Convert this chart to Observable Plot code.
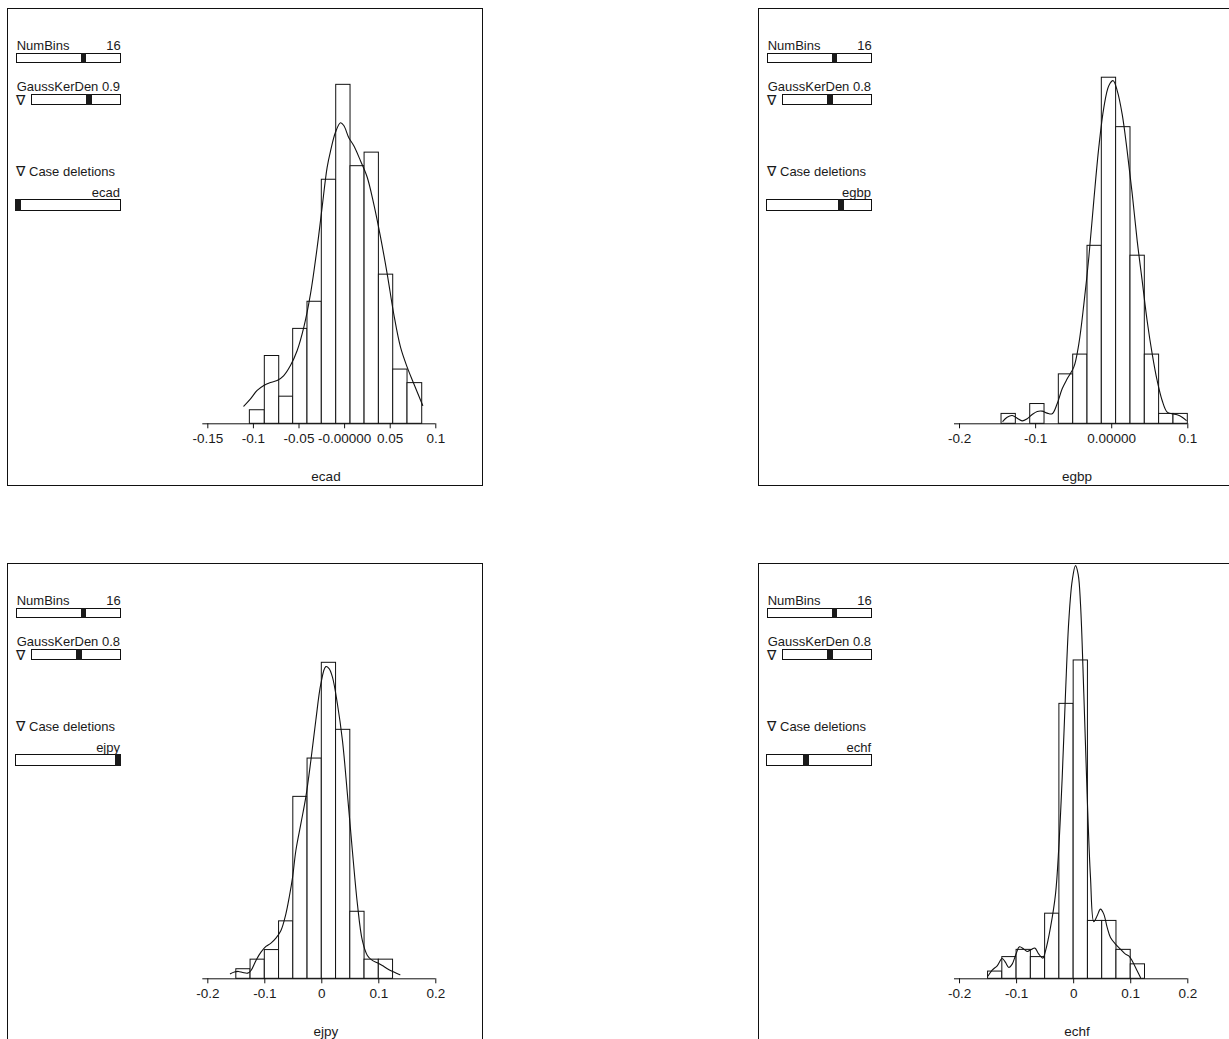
<!DOCTYPE html>
<html><head><meta charset="utf-8">
<script src="https://cdn.jsdelivr.net/npm/d3@7"></script>
<script src="https://cdn.jsdelivr.net/npm/@observablehq/plot@0.6"></script>
<style>
html,body{margin:0;padding:0;overflow:hidden;background:#fff;width:1229px;height:1039px;}
body{position:relative;font-family:"Liberation Sans",Arial,sans-serif;color:#1a1a1a;}
.panel{position:absolute;width:476px;height:478px;}
.frame{position:absolute;left:0;top:0;width:476px;height:478px;box-sizing:border-box;border:1px solid #111;pointer-events:none;}
.panel svg{position:absolute;left:0;top:0;}
.t{position:absolute;font-size:13px;line-height:13px;white-space:nowrap;}
.tri{font-family:"DejaVu Sans",sans-serif;font-size:14px;}
.slider{position:absolute;box-sizing:border-box;border:1px solid #111;background:#fff;}
.knob{position:absolute;top:-1px;bottom:-1px;background:#1a1a1a;}
</style></head><body>
<script>
// ---------- data ----------
const panelNames = ["ecad", "egbp", "ejpy", "echf"];
const gaussKerDen = ["0.9", "0.8", "0.8", "0.8"];
const numBins = "16";

const ecadEdges = [-0.1039, -0.0875, -0.0717, -0.0564, -0.0407, -0.0250, -0.0092, 0.0065, 0.0219, 0.0376, 0.0533, 0.0690, 0.0851];
const ecadCounts = [1, 5, 2, 7, 9, 18, 25, 19, 20, 11, 4, 3];
const ecadDensX = [-0.1105,-0.1032,-0.0959,-0.0886,-0.0813,-0.0740,-0.0667,-0.0594,-0.0520,-0.0447,-0.0374,-0.0301,-0.0246,-0.0192,-0.0155,-0.0100,-0.0045,-0.0009,0.0046,0.0101,0.0174,0.0247,0.0320,0.0393,0.0466,0.0539,0.0613,0.0686,0.0759,0.0857];
const ecadDensY = [1.30,1.84,2.46,2.83,3.05,3.19,3.56,4.30,5.41,7.13,9.58,13.0,16.0,18.9,20.1,21.5,22.2,22.0,21.1,20.5,19.4,18.2,16.2,13.8,11.1,8.1,5.65,4.18,2.95,1.35];
const ecadTicks = [-0.15, -0.1, -0.05, 0, 0.05, 0.1];
const ecadTickLabels = ["-0.15", "-0.1", "-0.05", "-0.00000", "0.05", "0.1"];

const egbpEdges = [-0.1448,-0.1260,-0.1071,-0.0883,-0.0695,-0.0506,-0.0318,-0.0130,0.0058,0.0247,0.0435,0.0623,0.0812,0.1000];
const egbpCounts = [1, 0, 2, 0, 5, 7, 18, 35, 30, 17, 7, 1, 1];
const egbpDensX = [-0.1431,-0.1374,-0.1308,-0.1242,-0.1177,-0.1111,-0.1045,-0.0979,-0.0914,-0.0848,-0.0782,-0.0717,-0.0651,-0.0585,-0.0498,-0.0432,-0.0366,-0.0300,-0.0235,-0.0169,-0.0103,-0.0038,0.0019,0.0072,0.0138,0.0203,0.0269,0.0335,0.0400,0.0466,0.0532,0.0597,0.0663,0.0729,0.0795,0.0860,0.0926,0.0979];
const egbpDensY = [0.24,0.67,0.84,0.57,0.30,0.51,0.94,1.25,1.28,1.08,1.01,2.02,3.54,4.55,5.73,8.09,12.1,16.9,22.6,28.0,32.0,34.2,34.7,33.7,31.3,27.6,23.3,18.5,14.5,10.4,7.08,4.38,2.36,1.18,1.01,0.91,0.67,0.34];
const egbpTicks = [-0.2, -0.1, 0, 0.1];
const egbpTickLabels = ["-0.2", "-0.1", "0.00000", "0.1"];

const ejpyEdges = [-0.15,-0.125,-0.1,-0.075,-0.05,-0.025,0,0.025,0.05,0.075,0.1,0.125];
const ejpyCounts = [1, 2, 3, 6, 19, 23, 33, 26, 7, 2, 2];
const ejpyDensX = [-0.1604,-0.1534,-0.1464,-0.1388,-0.1300,-0.1242,-0.1155,-0.1067,-0.0980,-0.0892,-0.0805,-0.0717,-0.0630,-0.0571,-0.0513,-0.0455,-0.0367,-0.0280,-0.0192,-0.0105,-0.0017,0.0070,0.0128,0.0187,0.0274,0.0362,0.0449,0.0536,0.0624,0.0711,0.0799,0.0886,0.0974,0.1061,0.1149,0.1265,0.1370];
const ejpyDensY = [0.52,0.70,0.77,0.66,0.59,0.87,1.92,2.79,3.38,3.73,4.25,5.05,6.79,8.54,10.6,13.4,16.2,19.0,22.8,27.0,30.8,32.6,32.4,31.5,28.7,24.9,19.3,13.4,7.84,4.0,2.44,1.92,1.67,1.39,1.05,0.70,0.42];
const ejpyTicks = [-0.2, -0.1, 0, 0.1, 0.2];
const ejpyTickLabels = ["-0.2", "-0.1", "0", "0.1", "0.2"];

const echfEdges = [-0.15,-0.125,-0.1,-0.075,-0.05,-0.025,0,0.025,0.05,0.075,0.1,0.125];
const echfCounts = [1, 3, 4, 3, 9, 38, 44, 8, 8, 4, 2];
const echfDensX = [-0.1498,-0.1428,-0.1340,-0.1253,-0.1194,-0.1136,-0.1077,-0.1007,-0.0949,-0.0873,-0.0815,-0.0739,-0.0680,-0.0610,-0.0540,-0.0493,-0.0406,-0.0318,-0.0260,-0.0201,-0.0143,-0.0085,-0.0026,0.0032,0.0079,0.0120,0.0178,0.0236,0.0295,0.0353,0.0412,0.0470,0.0528,0.0587,0.0645,0.0733,0.0820,0.0908,0.0966,0.1025,0.1112,0.1171];
const echfDensY = [0.41,1.20,1.80,2.81,2.26,1.57,2.03,3.50,4.42,4.10,3.78,4.06,4.24,3.41,2.86,3.87,7.10,11.7,18.2,27.8,39.4,49.5,55.0,57.1,55.9,51.8,39.4,25.5,14.0,7.88,8.71,9.63,8.94,7.10,5.71,4.79,4.10,3.41,3.18,2.49,1.11,0.18];
const echfTicks = [-0.2, -0.1, 0, 0.1, 0.2];
const echfTickLabels = ["-0.2", "-0.1", "0", "0.1", "0.2"];

// slider knob states (fraction along track)
const numBinsKnob = [0.614, 0.614, 0.614, 0.614];
const kernelKnob = [0.61, 0.505, 0.505, 0.505];
const caseKnob = [0.0, 0.676, 0.945, 0.346];

// ---------- layout ----------
const W = 476, H = 478;
const panels = [
  {name: panelNames[0], left: 7, top: 8, edges: ecadEdges, counts: ecadCounts, dx: ecadDensX, dy: ecadDensY, ticks: ecadTicks, labels: ecadTickLabels, domain: [-0.1555, 0.1], ml: 195.3, mr: 47.7, ymax: 30.63},
  {name: panelNames[1], left: 758, top: 8, edges: egbpEdges, counts: egbpCounts, dx: egbpDensX, dy: egbpDensY, ticks: egbpTicks, labels: egbpTickLabels, domain: [-0.2066, 0.1], ml: 196, mr: 46.7, ymax: 42.0},
  {name: panelNames[2], left: 7, top: 563, edges: ejpyEdges, counts: ejpyCounts, dx: ejpyDensX, dy: ejpyDensY, ticks: ejpyTicks, labels: ejpyTickLabels, domain: [-0.2088, 0.2], ml: 195.3, mr: 47.7, ymax: 43.37},
  {name: panelNames[3], left: 758, top: 563, edges: echfEdges, counts: echfCounts, dx: echfDensX, dy: echfDensY, ticks: echfTicks, labels: echfTickLabels, domain: [-0.2088, 0.2], ml: 196, mr: 46.7, ymax: 57.4}
];

function el(tag, cls, styles, text) {
  const e = document.createElement(tag);
  if (cls) e.className = cls;
  Object.assign(e.style, styles || {});
  if (text != null) e.textContent = text;
  return e;
}

panels.forEach((p, k) => {
  const div = el("div", "panel", {left: p.left + "px", top: p.top + "px"});
  document.body.appendChild(div);

  const bins = p.counts.map((c, i) => ({x1: p.edges[i], x2: p.edges[i + 1], y: c}));
  const dens = p.dx.map((x, i) => ({x, y: p.dy[i]}));

  const chart = Plot.plot({
    width: W, height: H,
    marginTop: 0, marginBottom: 62.7, marginLeft: p.ml, marginRight: p.mr,
    x: {domain: p.domain, axis: null},
    y: {domain: [0, p.ymax], axis: null},
    style: {background: "transparent", fontFamily: '"Liberation Sans", Arial, sans-serif', fontSize: "13.5px", color: "#1a1a1a", overflow: "visible"},
    marks: [
      Plot.rectY(bins, {x1: "x1", x2: "x2", y: "y", fill: "white", stroke: "#111", strokeWidth: 1}),
      Plot.line(dens, {x: "x", y: "y", stroke: "#111", strokeWidth: 1.1, curve: "catmull-rom"}),
      Plot.ruleY([0], {stroke: "#111", strokeWidth: 1}),
      Plot.axisX({ticks: p.ticks, tickFormat: d => p.labels[p.ticks.indexOf(d)], tickSize: 5, tickPadding: 5, label: null, stroke: "#111"})
    ]
  });
  div.appendChild(chart);

  // x-axis name
  div.appendChild(el("div", "t", {left: "269px", width: "100px", textAlign: "center", top: "462px", fontSize: "13.5px"}, p.name));

  // NumBins widget
  const nb = el("div", "t", {left: "9.7px", top: "31px", width: "104px", display: "flex", justifyContent: "space-between"});
  nb.appendChild(el("span", null, {}, "NumBins"));
  nb.appendChild(el("span", null, {}, numBins));
  div.appendChild(nb);
  const s1 = el("div", "slider", {left: "9px", top: "44.7px", width: "105.3px", height: "10.6px"});
  s1.appendChild(el("div", "knob", {left: (numBinsKnob[k] * 105.3 - 1) + "px", width: "5.3px"}));
  div.appendChild(s1);

  // GaussKerDen widget
  div.appendChild(el("div", "t", {left: "9.7px", top: "72.5px", lineHeight: "12px"}, "GaussKerDen " + gaussKerDen[k]));
  div.appendChild(el("div", "t tri", {left: "9px", top: "86.5px", lineHeight: "11px"}, "\u2207"));
  const s2 = el("div", "slider", {left: "23.7px", top: "86.3px", width: "90.6px", height: "11px"});
  s2.appendChild(el("div", "knob", {left: (kernelKnob[k] * 90.6 - 1) + "px", width: "5.7px"}));
  div.appendChild(s2);

  // Case deletions widget
  const cd = el("div", "t", {left: "9px", top: "157px"});
  cd.appendChild(el("span", "tri", {}, "\u2207"));
  cd.appendChild(el("span", null, {}, " Case deletions"));
  div.appendChild(cd);
  div.appendChild(el("div", "t", {left: "13px", width: "100px", textAlign: "right", top: "178px"}, p.name));
  const s3 = el("div", "slider", {left: "8.3px", top: "191.3px", width: "106px", height: "12px"});
  s3.appendChild(el("div", "knob", {left: (caseKnob[k] * 106 - 1) + "px", width: "6px"}));
  div.appendChild(s3);

  div.appendChild(el("div", "frame", {}));
});
</script>
</body></html>
